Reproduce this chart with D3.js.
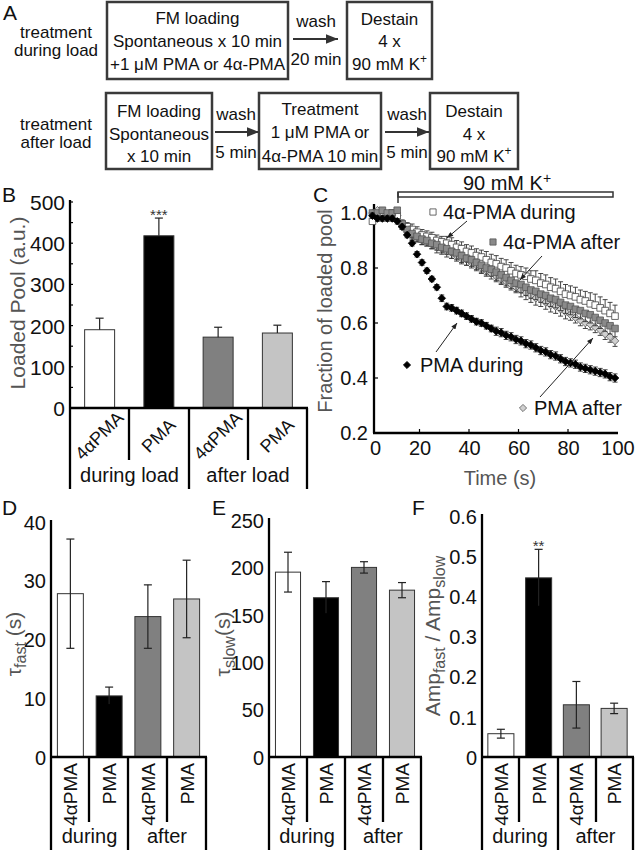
<!DOCTYPE html>
<html><head><meta charset="utf-8">
<script src="https://cdn.jsdelivr.net/npm/d3@7"></script>
<style>
body{margin:0;background:#fff}
svg{display:block}
text{font-family:"Liberation Sans",Arial,Helvetica,sans-serif}
</style>
</head><body>
<svg id="fig" width="636" height="852"></svg>
<script>
// ================= DATA =================
const groups = ["4αPMA during", "PMA during", "4αPMA after", "PMA after"];
const catLabels = ["4αPMA", "PMA", "4αPMA", "PMA"];
const barColors = ["#ffffff", "#000000", "#808080", "#c4c4c4"];

// Panel B
const loadedPool = [190, 418, 172, 182];
const loadedPoolErr = [28, 43, 24, 19];
const loadedPoolTicks = [0, 100, 200, 300, 400, 500];
const loadedPoolMinor = [50, 150, 250, 350, 450];
const groupLabelsB = ["during load", "after load"];

// Panel D
const tauFast = [27.8, 10.4, 23.9, 26.9];
const tauFastErr = [9.3, 1.5, 5.4, 6.6];
const tauFastTicks = [0, 10, 20, 30, 40];

// Panel E
const tauSlow = [195, 168, 200, 176];
const tauSlowErr = [21, 17, 6, 8];
const tauSlowTicks = [0, 50, 100, 150, 200, 250];

// Panel F
const ampRatio = [0.058, 0.446, 0.130, 0.121];
const ampRatioErr = [0.011, 0.071, 0.058, 0.013];
const ampRatioTicks = [0, 0.1, 0.2, 0.3, 0.4, 0.5, 0.6];
const groupLabelsDEF = ["during", "after"];

// Panel C : time course (fraction of loaded pool)
const timeS = [1,3,5,7,9,11,13,15,17,19,21,23,25,27,29,31,33,35,37,39,41,43,45,47,49,
               51,53,55,57,59,61,63,65,67,69,71,73,75,77,79,81,83,85,87,89,91,93,95,97,99];
const timeTicks = [0, 20, 40, 60, 80, 100];
const fracTicks = [0.2, 0.4, 0.6, 0.8, 1.0];

const alphaDuring = [0.97,0.99,1.00,0.99,1.00,0.99,0.96,0.95,0.94,0.93,0.92,0.915,0.91,0.90,0.895,0.89,0.885,0.875,0.87,0.86,
                     0.855,0.845,0.84,0.83,0.82,0.815,0.805,0.80,0.79,0.78,0.775,0.77,0.76,0.755,0.745,0.74,0.73,0.725,0.715,0.705,
                     0.70,0.695,0.685,0.68,0.67,0.665,0.655,0.645,0.635,0.625];
const alphaDuringErr = [0.02,0.01,0.01,0.01,0.01,0.01,0.015,0.015,0.02,0.02,0.02,0.02,0.02,0.02,0.02,0.025,0.025,0.025,0.025,0.025,
                        0.025,0.025,0.025,0.03,0.03,0.03,0.03,0.03,0.03,0.03,0.03,0.03,0.03,0.035,0.035,0.035,0.035,0.035,0.035,0.035,
                        0.035,0.035,0.035,0.035,0.04,0.04,0.04,0.04,0.04,0.04];
const alphaAfter = [1.00,1.00,1.01,1.00,1.00,1.01,0.96,0.94,0.925,0.915,0.905,0.90,0.89,0.885,0.875,0.87,0.86,0.855,0.845,0.835,
                    0.83,0.82,0.81,0.80,0.795,0.785,0.775,0.765,0.755,0.745,0.74,0.73,0.72,0.715,0.705,0.70,0.69,0.685,0.675,0.665,
                    0.66,0.65,0.645,0.635,0.63,0.62,0.61,0.60,0.59,0.58];
const alphaAfterErr = [0.01,0.01,0.01,0.01,0.01,0.01,0.015,0.015,0.015,0.02,0.02,0.02,0.02,0.02,0.02,0.02,0.025,0.025,0.025,0.025,
                       0.025,0.025,0.025,0.025,0.025,0.03,0.03,0.03,0.03,0.03,0.03,0.03,0.03,0.03,0.03,0.03,0.03,0.03,0.03,0.03,
                       0.03,0.03,0.03,0.03,0.03,0.03,0.03,0.03,0.03,0.03];
const pmaAfter = [1.00,1.01,1.00,0.99,1.00,0.99,0.95,0.935,0.92,0.91,0.90,0.895,0.885,0.875,0.87,0.86,0.855,0.845,0.835,0.83,
                  0.82,0.81,0.80,0.79,0.78,0.77,0.76,0.75,0.74,0.73,0.72,0.71,0.70,0.69,0.685,0.675,0.665,0.66,0.65,0.64,
                  0.63,0.62,0.61,0.60,0.595,0.585,0.575,0.56,0.55,0.535];
const pmaAfterErr = [0.01,0.01,0.01,0.01,0.01,0.01,0.01,0.015,0.015,0.015,0.015,0.015,0.015,0.02,0.02,0.02,0.02,0.02,0.02,0.02,
                     0.02,0.02,0.02,0.02,0.02,0.02,0.02,0.02,0.02,0.02,0.025,0.025,0.025,0.025,0.025,0.025,0.025,0.025,0.025,0.025,
                     0.02,0.02,0.02,0.02,0.02,0.02,0.02,0.02,0.02,0.02];
const pmaDuring = [0.99,0.98,0.98,0.98,0.98,0.97,0.95,0.92,0.89,0.85,0.82,0.79,0.76,0.73,0.69,0.66,0.655,0.645,0.635,0.625,
                   0.615,0.605,0.60,0.59,0.58,0.57,0.565,0.555,0.55,0.54,0.535,0.525,0.52,0.51,0.50,0.495,0.485,0.48,0.47,0.46,
                   0.455,0.45,0.44,0.435,0.43,0.425,0.42,0.415,0.405,0.40];
const pmaDuringErr = [0.01,0.01,0.01,0.01,0.01,0.01,0.01,0.01,0.01,0.01,0.01,0.01,0.01,0.01,0.012,0.012,0.012,0.012,0.012,0.012,
                      0.012,0.012,0.012,0.012,0.012,0.015,0.015,0.015,0.015,0.015,0.015,0.015,0.015,0.015,0.015,0.015,0.015,0.015,0.015,0.015,
                      0.015,0.015,0.015,0.015,0.015,0.015,0.015,0.015,0.015,0.015];

// ================= DRAW =================
const svg = d3.select("#fig");
svg.append("rect").attr("width", 636).attr("height", 852).attr("fill", "#fff");
const FONT = '"Liberation Sans",Arial,Helvetica,sans-serif';
const defs = svg.append("defs");
defs.append("marker").attr("id", "headBig").attr("viewBox", "0 0 10 8")
  .attr("refX", 10).attr("refY", 4).attr("markerWidth", 12).attr("markerHeight", 10)
  .attr("markerUnits", "userSpaceOnUse").attr("orient", "auto")
  .append("path").attr("d", "M0,0 L10,4 L0,8 Z").attr("fill", "#333");
defs.append("marker").attr("id", "headSmall").attr("viewBox", "0 0 10 8")
  .attr("refX", 10).attr("refY", 4).attr("markerWidth", 7).attr("markerHeight", 5)
  .attr("markerUnits", "userSpaceOnUse").attr("orient", "auto")
  .append("path").attr("d", "M0,0 L10,4 L0,8 Z").attr("fill", "#222");

function txt(g, x, y, s, size, anchor, color) {
  return g.append("text").attr("x", x).attr("y", y).attr("font-size", size)
    .attr("text-anchor", anchor || "middle").attr("fill", color || "#111").text(s);
}
function kPlus(g, x, y, size) {
  const t = g.append("text").attr("x", x).attr("y", y).attr("font-size", size)
    .attr("text-anchor", "middle").attr("fill", "#111");
  t.append("tspan").text("90 mM K");
  t.append("tspan").attr("dy", -7).attr("font-size", size * 0.7).text("+");
  return t;
}

// ---------- Panel A ----------
const A = svg.append("g");
txt(A, 3, 20, "A", 21, "start");
const boxA = (x0, y0, x1, y1, lines, ys) => {
  A.append("rect").attr("x", x0).attr("y", y0).attr("width", x1 - x0).attr("height", y1 - y0)
    .attr("fill", "none").attr("stroke", "#3a3a3a").attr("stroke-width", 2.5);
  lines.forEach((l, i) => {
    if (l === "K") kPlus(A, (x0 + x1) / 2, ys[i], 17);
    else txt(A, (x0 + x1) / 2, ys[i], l, 17);
  });
};
const arrowA = (x0, x1, y, top, bottom, cx) => {
  A.append("line").attr("x1", x0).attr("x2", x1).attr("y1", y).attr("y2", y)
    .attr("stroke", "#333").attr("stroke-width", 2.2).attr("marker-end", "url(#headBig)");
  txt(A, cx, y - 12, top, 17);
  txt(A, cx, y + 26, bottom, 17);
};
txt(A, 56, 38, "treatment", 17);
txt(A, 56, 56, "during load", 17);
boxA(107, 2, 288, 79, ["FM loading", "Spontaneous x 10 min", "+1 μM PMA or 4α-PMA"], [24, 47, 70]);
arrowA(293, 338, 39, "wash", "20 min", 316);
boxA(347, 2, 432, 79, ["Destain", "4 x", "K"], [25, 47, 70]);

txt(A, 56, 130, "treatment", 17);
txt(A, 56, 148, "after load", 17);
boxA(106, 93, 212, 169, ["FM loading", "Spontaneous", "x 10 min"], [117, 140, 162]);
arrowA(215, 259, 132, "wash", "5 min", 236);
boxA(259, 93, 381, 169, ["Treatment", "1 μM PMA or", "4α-PMA 10 min"], [115, 138, 162]);
arrowA(385, 429, 132, "wash", "5 min", 407);
boxA(430, 93, 518, 169, ["Destain", "4 x", "K"], [117, 140, 162]);

// ---------- bar panel helper ----------
function barPanel(o) {
  const g = svg.append("g");
  const y = d3.scaleLinear().domain(o.domain).range([o.y0, o.yTop]);
  const x = d3.scaleBand().domain(groups).range([o.edges[0], o.edges[4]])
    .paddingInner(o.pad).paddingOuter(o.pad / 2);
  g.selectAll("rect.bar").data(groups).join("rect").attr("class", "bar")
    .attr("x", d => x(d)).attr("width", x.bandwidth())
    .attr("y", (d, i) => y(o.values[i])).attr("height", (d, i) => o.y0 - y(o.values[i]))
    .attr("fill", (d, i) => barColors[i]).attr("stroke", "#333").attr("stroke-width", 1);
  groups.forEach((d, i) => {
    const cx = x(d) + x.bandwidth() / 2;
    const v = o.values[i], e = o.errs[i];
    const lo = o.upOnly ? v : v - e;
    g.append("line").attr("x1", cx).attr("x2", cx).attr("y1", y(lo)).attr("y2", y(v + e))
      .attr("stroke", "#222").attr("stroke-width", 1.2);
    g.append("line").attr("x1", cx - 4).attr("x2", cx + 4).attr("y1", y(v + e)).attr("y2", y(v + e))
      .attr("stroke", "#222").attr("stroke-width", 1.2);
    if (!o.upOnly) g.append("line").attr("x1", cx - 4).attr("x2", cx + 4).attr("y1", y(v - e)).attr("y2", y(v - e))
      .attr("stroke", i === 1 ? "#000" : "#222").attr("stroke-width", 1.2);
  });
  g.append("line").attr("x1", o.edges[0]).attr("x2", o.edges[0]).attr("y1", o.y0).attr("y2", o.yTop - 2)
    .attr("stroke", "#000").attr("stroke-width", 2.3);
  const ya = d3.axisLeft(y).tickValues(o.ticks).tickSize(0).tickPadding(0).tickFormat(o.fmt);
  const ag = g.append("g").attr("transform", `translate(${o.edges[0] - 5},0)`).call(ya);
  ag.select(".domain").remove();
  ag.selectAll("text").attr("font-size", o.tickSize).attr("font-family", FONT).attr("fill", "#111")
    .attr("dy", "0.36em");
  if (o.minor) {
    g.selectAll("line.minor").data(o.minor.concat(o.ticks)).join("line")
      .attr("x1", o.edges[0]).attr("x2", o.edges[0] + 3).attr("y1", d => y(d)).attr("y2", d => y(d))
      .attr("stroke", "#000").attr("stroke-width", 1.2);
  }
  g.append("line").attr("x1", o.edges[0] - 1).attr("x2", o.edges[4] + 1).attr("y1", o.y0).attr("y2", o.y0)
    .attr("stroke", "#000").attr("stroke-width", 2.5);
  o.edges.forEach((ex, i) => {
    g.append("line").attr("x1", ex).attr("x2", ex).attr("y1", o.y0)
      .attr("y2", i % 2 === 0 ? o.tableBottom : o.innerBottom)
      .attr("stroke", "#000").attr("stroke-width", 2.3);
  });
  groups.forEach((d, i) => {
    const cx = x(d) + x.bandwidth() / 2;
    if (o.diag) {
      g.append("text").attr("transform", `translate(${cx + 4},${o.diagY}) rotate(-45)`)
        .attr("text-anchor", "middle").attr("font-size", o.catSize).attr("fill", "#111").text(catLabels[i]);
    } else {
      g.append("text").attr("transform", `translate(${cx + 7},${o.vertTop}) rotate(-90)`)
        .attr("text-anchor", "end").attr("font-size", o.catSize).attr("fill", "#111").text(catLabels[i]);
    }
  });
  o.groupLabels.forEach((l, k) => {
    txt(g, (o.edges[2 * k] + o.edges[2 * k + 2]) / 2, o.groupY, l, o.groupSize);
  });
  if (o.sig) txt(g, x(groups[1]) + x.bandwidth() / 2, o.sigY, o.sig, 15, "middle", "#333");
  txt(g, o.letter[0], o.letter[1], o.letter[2], 21, "start");
  return { g, x, y };
}

// ---------- Panel B ----------
const B = barPanel({
  domain: [0, 500], y0: 408, yTop: 202, edges: [70, 129, 189, 248, 307], pad: 0.494,
  values: loadedPool, errs: loadedPoolErr, upOnly: true, ticks: loadedPoolTicks, minor: loadedPoolMinor,
  fmt: d3.format("d"), tickSize: 21, tableBottom: 489, innerBottom: 460,
  diag: true, diagY: 440, catSize: 18, groupLabels: groupLabelsB, groupY: 482, groupSize: 20,
  sig: "***", sigY: 220, letter: [2, 202, "B"]
});
B.g.append("text").attr("transform", "translate(25,303) rotate(-90)").attr("text-anchor", "middle")
  .attr("font-size", 21).attr("fill", "#555").text("Loaded Pool (a.u.)");

// ---------- Panel D ----------
const D = barPanel({
  domain: [0, 40], y0: 757, yTop: 522, edges: [51, 89, 128, 167, 206], pad: 0.33,
  values: tauFast, errs: tauFastErr, ticks: tauFastTicks, fmt: d3.format("d"), tickSize: 20,
  tableBottom: 850, innerBottom: 822, diag: false, vertTop: 763, catSize: 19,
  groupLabels: groupLabelsDEF, groupY: 843, groupSize: 20, letter: [2, 515, "D"]
});
{
  const t = D.g.append("text").attr("transform", "translate(21,644) rotate(-90)").attr("text-anchor", "middle")
    .attr("font-size", 21).attr("fill", "#555");
  t.append("tspan").text("τ");
  t.append("tspan").attr("dy", 5).attr("font-size", 16).text("fast");
  t.append("tspan").attr("dy", -5).text(" (s)");
}

// ---------- Panel E ----------
const E = barPanel({
  domain: [0, 250], y0: 757, yTop: 520, edges: [269, 307, 345, 383, 421], pad: 0.34,
  values: tauSlow, errs: tauSlowErr, ticks: tauSlowTicks, fmt: d3.format("d"), tickSize: 20,
  tableBottom: 850, innerBottom: 822, diag: false, vertTop: 763, catSize: 19,
  groupLabels: groupLabelsDEF, groupY: 843, groupSize: 20, letter: [212, 515, "E"]
});
{
  const t = E.g.append("text").attr("transform", "translate(230,644) rotate(-90)").attr("text-anchor", "middle")
    .attr("font-size", 21).attr("fill", "#555");
  t.append("tspan").text("τ");
  t.append("tspan").attr("dy", 5).attr("font-size", 16).text("slow");
  t.append("tspan").attr("dy", -5).text("(s)");
}

// ---------- Panel F ----------
const F = barPanel({
  domain: [0, 0.6], y0: 757, yTop: 516, edges: [482, 519, 558, 596, 633], pad: 0.31,
  values: ampRatio, errs: ampRatioErr, ticks: ampRatioTicks, fmt: d => d === 0 ? "0" : d3.format(".1f")(d),
  tickSize: 20, tableBottom: 850, innerBottom: 822, diag: false, vertTop: 763, catSize: 19,
  groupLabels: groupLabelsDEF, groupY: 843, groupSize: 20, sig: "**", sigY: 551, letter: [412, 515, "F"]
});
{
  const t = F.g.append("text").attr("transform", "translate(440,636) rotate(-90)").attr("text-anchor", "middle")
    .attr("font-size", 21).attr("fill", "#555");
  t.append("tspan").text("Amp");
  t.append("tspan").attr("dy", 5).attr("font-size", 16).text("fast");
  t.append("tspan").attr("dy", -5).text(" / Amp");
  t.append("tspan").attr("dy", 5).attr("font-size", 16).text("slow");
}

// ---------- Panel C ----------
const C = svg.append("g");
const xC = d3.scaleLinear().domain([0, 100]).range([370, 617.5]);
const yC = d3.scaleLinear().domain([0.2, 1.0]).range([433, 213]);
txt(C, 313, 202, "C", 21, "start");
kPlus(C, 507, 190, 20);
C.append("rect").attr("x", 398).attr("y", 192).attr("width", 215).attr("height", 5)
  .attr("fill", "#fff").attr("stroke", "#333").attr("stroke-width", 1.5);
C.append("line").attr("x1", 398).attr("x2", 398).attr("y1", 192).attr("y2", 203)
  .attr("stroke", "#333").attr("stroke-width", 1.5);

C.append("line").attr("x1", 374).attr("x2", 374).attr("y1", 433).attr("y2", 204)
  .attr("stroke", "#000").attr("stroke-width", 2.3);
C.append("line").attr("x1", 373).attr("x2", 618).attr("y1", 433).attr("y2", 433)
  .attr("stroke", "#000").attr("stroke-width", 2.3);
const xAx = C.append("g").attr("transform", "translate(0,437)")
  .call(d3.axisBottom(xC).tickValues(timeTicks).tickSize(0).tickPadding(4).tickFormat(d3.format("d")));
xAx.select(".domain").remove();
xAx.selectAll("text").attr("font-size", 20).attr("font-family", FONT).attr("fill", "#111")
  .attr("dx", d => d === 0 ? 5 : 0);
C.selectAll("line.xt").data(timeTicks.slice(1, -1)).join("line")
  .attr("x1", d => xC(d)).attr("x2", d => xC(d)).attr("y1", 433).attr("y2", 429)
  .attr("stroke", "#000").attr("stroke-width", 1.2);
const yAx = C.append("g").attr("transform", "translate(368,0)")
  .call(d3.axisLeft(yC).tickValues(fracTicks).tickSize(0).tickPadding(0).tickFormat(d3.format(".1f")));
yAx.select(".domain").remove();
yAx.selectAll("text").attr("font-size", 20).attr("font-family", FONT).attr("fill", "#111").attr("dy", "0.3em");
C.selectAll("line.yt").data(fracTicks.slice(1, -1)).join("line")
  .attr("x1", 374).attr("x2", 378).attr("y1", d => yC(d)).attr("y2", d => yC(d))
  .attr("stroke", "#000").attr("stroke-width", 1.2);
txt(C, 500, 485, "Time (s)", 20, "middle", "#555");
C.append("text").attr("transform", "translate(332,311) rotate(-90)").attr("text-anchor", "middle")
  .attr("font-size", 20).attr("fill", "#555").text("Fraction of loaded pool");

const sqPath = s => `M${-s},${-s}H${s}V${s}H${-s}Z`;
const diaPath = s => `M0,${-s}L${s},0L0,${s}L${-s},0Z`;
function series(vals, errs, dir, shape, fill, stroke, size) {
  const g = C.append("g");
  const data = timeS.map((t, i) => ({ t, v: vals[i], e: errs[i] }));
  data.forEach(d => {
    const cx = xC(d.t);
    const y1 = dir === "both" ? yC(d.v - d.e) : yC(d.v);
    const y2 = dir === "down" ? yC(d.v - d.e) : yC(d.v + d.e);
    g.append("line").attr("x1", cx).attr("x2", cx).attr("y1", y1).attr("y2", y2)
      .attr("stroke", "#333").attr("stroke-width", 0.9);
    const caps = dir === "both" ? [d.v - d.e, d.v + d.e] : [dir === "down" ? d.v - d.e : d.v + d.e];
    caps.forEach(c => g.append("line").attr("x1", cx - 2.5).attr("x2", cx + 2.5)
      .attr("y1", yC(c)).attr("y2", yC(c)).attr("stroke", "#333").attr("stroke-width", 0.9));
  });
  g.selectAll("path").data(data).join("path")
    .attr("transform", d => `translate(${xC(d.t)},${yC(d.v)})`)
    .attr("d", shape === "sq" ? sqPath(size) : diaPath(size))
    .attr("fill", fill).attr("stroke", stroke).attr("stroke-width", 0.8);
}
series(pmaAfter, pmaAfterErr, "down", "dia", "#d0d0d0", "#555", 3.8);
series(alphaDuring, alphaDuringErr, "up", "sq", "#ffffff", "#444", 3.3);
series(alphaAfter, alphaAfterErr, "down", "sq", "#8a8a8a", "#555", 3.3);
series(pmaDuring, pmaDuringErr, "both", "dia", "#000", "#000", 3.8);

const legendC = [
  { shape: "sq", fill: "#fff", stroke: "#444", mx: 433, my: 212, tx: 443, ty: 219, label: "4α-PMA during",
    a: [467, 221, 447, 238] },
  { shape: "sq", fill: "#8a8a8a", stroke: "#555", mx: 493, my: 242, tx: 503, ty: 249, label: "4α-PMA after",
    a: [542, 256, 520, 280] },
  { shape: "dia", fill: "#000", stroke: "#000", mx: 407, my: 365, tx: 420, ty: 372, label: "PMA during",
    a: [436, 352, 457, 323] },
  { shape: "dia", fill: "#d0d0d0", stroke: "#555", mx: 523, my: 408, tx: 534, ty: 415, label: "PMA after",
    a: [540, 397, 593, 338] }
];
legendC.forEach(l => {
  C.append("path").attr("transform", `translate(${l.mx},${l.my})`)
    .attr("d", l.shape === "sq" ? sqPath(3.1) : diaPath(3.6))
    .attr("fill", l.fill).attr("stroke", l.stroke).attr("stroke-width", 0.8);
  txt(C, l.tx, l.ty, l.label, 20, "start");
  C.append("line").attr("x1", l.a[0]).attr("y1", l.a[1]).attr("x2", l.a[2]).attr("y2", l.a[3])
    .attr("stroke", "#222").attr("stroke-width", 1).attr("marker-end", "url(#headSmall)");
});
</script>
</body></html>
